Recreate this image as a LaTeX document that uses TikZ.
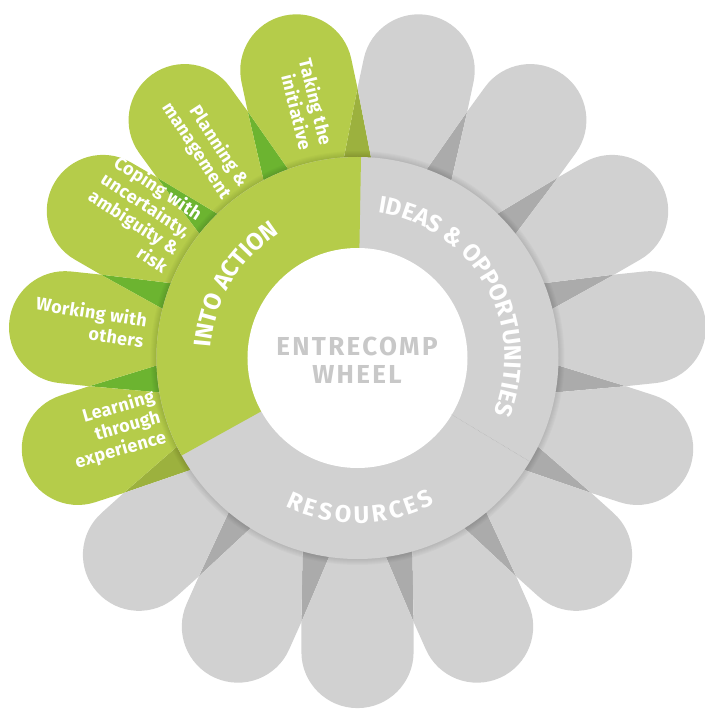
\documentclass[tikz,border=0pt]{standalone}
\usepackage{fontspec}
\setmainfont{Fira Sans}
\newfontfamily\hubfont[LetterSpace=9]{Fira Sans}
\newfontfamily\leaffont[LetterSpace=2]{Fira Sans}
\usetikzlibrary{decorations.text}
\definecolor{leafgreen}{RGB}{181,204,74}
\definecolor{leafgray}{RGB}{209,209,209}
\definecolor{wedgegreen}{RGB}{108,180,48}
\definecolor{wedgeolive}{RGB}{156,177,62}
\definecolor{wedgegray}{RGB}{171,171,171}
\definecolor{hubtext}{RGB}{200,200,200}
\newcommand\ringfont{\bfseries\fontsize{24}{24}\selectfont\color{white}}

\begin{document}
\begin{tikzpicture}[x=1pt,y=1pt,
  leaflabel/.style={text=white, font=\leaffont\bfseries\fontsize{18}{21}\selectfont, align=right, inner sep=0pt},
  ringtext/.style={decorate, decoration={text along path, text align={fit to path}, text={#1}}}]
\useasboundingbox (-357.5,-351) rectangle (346.5,358);
% wedges between the leaves
\foreach \a/\wc in {6/wedgegray,30/wedgegray,54/wedgegray,78/wedgeolive,102/wedgegreen,126/wedgegreen,150/wedgegreen,174/wedgegreen,198/wedgeolive,222/wedgegray,246/wedgegray,270/wedgegray,294/wedgegray,318/wedgegray,342/wedgegray}
  \fill[\wc] (\a:132) -- ({\a+12}:269.9) -- ({\a+24}:132) -- cycle;
% leaves
\foreach \a/\pc in {6/leafgray,30/leafgray,54/leafgray,78/leafgray,102/leafgreen,126/leafgreen,150/leafgreen,174/leafgreen,198/leafgreen,222/leafgray,246/leafgray,270/leafgray,294/leafgray,318/leafgray,342/leafgray}
  \fill[\pc, rotate=\a] (132,0) -- (264,-56.1) -- (294,-56.1) arc[start angle=-90, end angle=90, radius=56.1] -- (264,56.1) -- cycle;
% soft shadow of the ring
\foreach \i in {1,...,6}
  \fill[black, opacity=.02] (0,0) circle[radius=201+\i];
% ring
\fill[leafgray] (0,0) circle[radius=201];
\fill[leafgreen] (0,0) -- (89:201) arc[start angle=89, end angle=209, radius=201] -- cycle;
\fill[white] (0,0) circle[radius=110];
\draw[wedgegray, densely dotted, line width=.4pt] (329:110) -- (329:201);
\path[ringtext={|\ringfont|IDEAS {\&} OPPORTUNITIES}] (82:147) arc[start angle=82, end angle=-22, radius=147];
\path[ringtext={|\ringfont|INTO ACTION}] (176:147) arc[start angle=176, end angle=122, radius=147];
\path[ringtext={|\ringfont|RESOURCES}] (244:165) arc[start angle=244, end angle=298, radius=165];
% hub
\node[text=hubtext, font=\hubfont\bfseries\fontsize{26}{28}\selectfont, align=center] (hub) at (-0.5,-2) {ENTRECOMP\\WHEEL};
% labels on the green leaves
\node[leaflabel, rotate=-76] (initiative) at (-51.5,254) {Taking the\\initiative};
\node[leaflabel, rotate=-57] (planning) at (-152.5,213) {Planning \&\\management};
\node[leaflabel, rotate=-33] (coping) at (-217.5,145) {Coping with\\uncertainty,\\ambiguity \&\\risk};
\node[leaflabel, rotate=-9] (working) at (-267.5,36) {Working with\\others};
\node[leaflabel, rotate=16] (learning) at (-242.5,-72) {Learning\\through\\experience};
\end{tikzpicture}
\end{document}
